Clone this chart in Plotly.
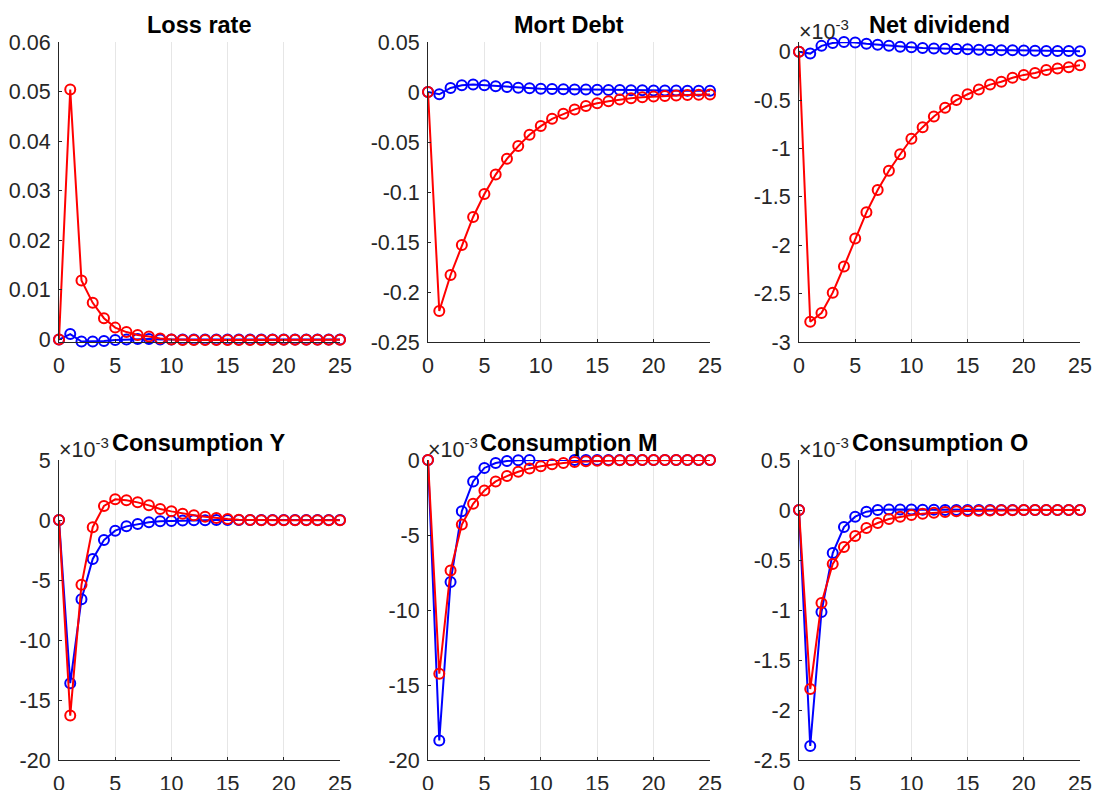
import plotly.graph_objects as go

periods = list(range(26))

titles = ["Loss rate", "Mort Debt", "Net dividend", "Consumption Y", "Consumption M", "Consumption O"]

loss_blue = [0, 0.0011, -0.0004, -0.0004, -0.0003, -0.0001, 0.0000, 0.0001, 0.0001, 0.0000,
             0.0000, 0.0000, 0.0000, 0.0000, 0.0000, 0.0000, 0.0000, 0.0000, 0.0000, 0.0000,
             0.0000, 0.0000, 0.0000, 0.0000, 0.0000, 0.0000]
loss_red = [0, 0.0504, 0.0119, 0.0074, 0.0043, 0.0024, 0.0015, 0.0009, 0.0006, 0.0002,
            0.0000, -0.0001, -0.0001, -0.0001, -0.0001, -0.0001, -0.0001, -0.0001, -0.0001, -0.00005,
            -0.00005, -0.00005, -0.00005, -0.00005, -0.00005, -0.00005]

mort_blue = [0, -0.0023, 0.0040, 0.0067, 0.0074, 0.0067, 0.0057, 0.0050, 0.0043, 0.0038,
             0.0033, 0.0030, 0.0028, 0.0026, 0.0024, 0.0022, 0.0021, 0.0019, 0.0018, 0.0017,
             0.0016, 0.0015, 0.0014, 0.0013, 0.0013, 0.0012]
mort_red = [0, -0.219, -0.183, -0.153, -0.125, -0.102, -0.0826, -0.0668, -0.0541, -0.0428,
            -0.0341, -0.0268, -0.0217, -0.0174, -0.0140, -0.0112, -0.0092, -0.0076, -0.0062, -0.0052,
            -0.0045, -0.0040, -0.0035, -0.0031, -0.0028, -0.0025]

div_blue = [v * 1e-3 for v in (0, -0.02, 0.06, 0.09, 0.10, 0.096, 0.083, 0.072, 0.062, 0.052,
                               0.045, 0.038, 0.034, 0.031, 0.027, 0.024, 0.021, 0.018, 0.016, 0.014,
                               0.012, 0.010, 0.008, 0.007, 0.006, 0.005)]
div_red = [v * 1e-3 for v in (0, -2.79, -2.70, -2.49, -2.22, -1.93, -1.66, -1.43, -1.23, -1.06,
                              -0.90, -0.78, -0.67, -0.58, -0.50, -0.44, -0.39, -0.34, -0.31, -0.27,
                              -0.24, -0.22, -0.19, -0.175, -0.16, -0.14)]

cy_blue = [v * 1e-3 for v in (0, -13.6, -6.6, -3.25, -1.67, -0.89, -0.53, -0.33, -0.19, -0.11,
                              -0.08, -0.05, -0.03, -0.02, -0.01, 0, 0, 0, 0, 0,
                              0, 0, 0, 0, 0, 0)]
cy_red = [v * 1e-3 for v in (0, -16.3, -5.4, -0.6, 1.17, 1.72, 1.64, 1.47, 1.22, 0.92,
                             0.72, 0.53, 0.39, 0.28, 0.17, 0.08, 0.03, 0.0, -0.02, -0.03,
                             -0.03, -0.03, -0.03, -0.02, -0.02, -0.02)]

cm_blue = [v * 1e-3 for v in (0, -18.7, -8.13, -3.41, -1.43, -0.53, -0.20, -0.07, -0.02, 0.0,
                              0.01, 0.01, 0.01, 0.0, 0, 0, 0, 0, 0, 0,
                              0, 0, 0, 0, 0, 0)]
cm_red = [v * 1e-3 for v in (0, -14.25, -7.37, -4.30, -2.92, -2.03, -1.43, -1.07, -0.78, -0.56,
                             -0.42, -0.29, -0.20, -0.13, -0.09, -0.05, -0.03, -0.02, -0.01, 0,
                             0, 0, 0, 0, 0, 0)]

co_blue = [v * 1e-3 for v in (0, -2.36, -1.02, -0.43, -0.17, -0.067, -0.017, 0.0, 0.005, 0.005,
                              0.004, 0.003, 0.002, 0.001, 0, 0, 0, 0, 0, 0,
                              0, 0, 0, 0, 0, 0)]
co_red = [v * 1e-3 for v in (0, -1.79, -0.93, -0.54, -0.37, -0.26, -0.18, -0.13, -0.09, -0.067,
                             -0.05, -0.037, -0.027, -0.02, -0.013, -0.01, -0.007, -0.005, -0.003, -0.002,
                             -0.001, 0, 0, 0, 0, 0)]

blue_series = [loss_blue, mort_blue, div_blue, cy_blue, cm_blue, co_blue]
red_series = [loss_red, mort_red, div_red, cy_red, cm_red, co_red]

x_ticks = [0, 5, 10, 15, 20, 25]

y_ranges = [[-0.0005, 0.06], [-0.25, 0.05], [-3e-3, 0.1e-3],
            [-20e-3, 5e-3], [-20e-3, 0.0], [-2.5e-3, 0.5e-3]]
y_tickvals = [
    [0, 0.01, 0.02, 0.03, 0.04, 0.05, 0.06],
    [-0.25, -0.2, -0.15, -0.1, -0.05, 0, 0.05],
    [-3e-3, -2.5e-3, -2e-3, -1.5e-3, -1e-3, -0.5e-3, 0],
    [-20e-3, -15e-3, -10e-3, -5e-3, 0, 5e-3],
    [-20e-3, -15e-3, -10e-3, -5e-3, 0],
    [-2.5e-3, -2e-3, -1.5e-3, -1e-3, -0.5e-3, 0, 0.5e-3],
]
y_ticktext = [
    ["0", "0.01", "0.02", "0.03", "0.04", "0.05", "0.06"],
    ["-0.25", "-0.2", "-0.15", "-0.1", "-0.05", "0", "0.05"],
    ["-3", "-2.5", "-2", "-1.5", "-1", "-0.5", "0"],
    ["-20", "-15", "-10", "-5", "0", "5"],
    ["-20", "-15", "-10", "-5", "0"],
    ["-2.5", "-2", "-1.5", "-1", "-0.5", "0", "0.5"],
]
has_exp = [False, False, True, True, True, True]

W, H = 1094, 790
col_px = [(59, 340), (428, 710), (799, 1080)]
row_px = [(42, 342), (460, 760)]

FONT = "Liberation Sans, Arial, Helvetica, sans-serif"
TICK_COLOR = "#262626"
AXIS_COLOR = "#262626"
TICK_SIZE = 21.5
TITLE_SIZE = 23.5

fig = go.Figure()
annotations = []

for i in range(6):
    r, c = divmod(i, 3)
    x0, x1 = col_px[c]
    top, bot = row_px[r]
    xd = [x0 / W, x1 / W]
    yd = [1 - bot / H, 1 - top / H]
    n = "" if i == 0 else str(i + 1)
    xa, ya = "x" + n, "y" + n

    for series, color in ((blue_series[i], "#0000ff"), (red_series[i], "#ff0000")):
        fig.add_trace(go.Scatter(
            x=periods, y=series, xaxis=xa, yaxis=ya, mode="lines+markers",
            line=dict(color=color, width=2),
            marker=dict(symbol="circle-open", size=10, color=color, line=dict(color=color, width=2)),
            cliponaxis=False, showlegend=False, hoverinfo="skip",
        ))

    fig.layout["xaxis" + n] = dict(
        domain=xd, anchor=ya, range=[0, 25], tickvals=x_ticks, ticktext=[str(t) for t in x_ticks],
        showgrid=True, gridcolor="#e6e6e6", gridwidth=1, zeroline=False,
        showline=True, linecolor=AXIS_COLOR, linewidth=1, mirror=False,
        ticks="inside", ticklen=3, tickcolor=AXIS_COLOR, automargin=False,
        ticklabelstandoff=4,
        tickfont=dict(family=FONT, size=TICK_SIZE, color=TICK_COLOR), fixedrange=True,
    )
    fig.layout["yaxis" + n] = dict(
        domain=yd, anchor=xa, range=y_ranges[i], tickvals=y_tickvals[i], ticktext=y_ticktext[i],
        showgrid=False, zeroline=False,
        showline=True, linecolor=AXIS_COLOR, linewidth=1, mirror=False,
        ticks="inside", ticklen=3, tickcolor=AXIS_COLOR, automargin=False,
        ticklabelstandoff=3,
        tickfont=dict(family=FONT, size=TICK_SIZE, color=TICK_COLOR), fixedrange=True,
    )

    annotations.append(dict(
        text="<b>" + titles[i] + "</b>", xref="paper", yref="paper",
        x=(xd[0] + xd[1]) / 2, y=yd[1] + 2 / H, xanchor="center", yanchor="bottom",
        showarrow=False, font=dict(family=FONT, size=TITLE_SIZE, color="#000000"),
    ))
    if has_exp[i]:
        annotations.append(dict(
            text="×10<sup>-3</sup>", xref="paper", yref="paper",
            x=xd[0] - 2 / W, y=yd[1] - 4 / H, xanchor="left", yanchor="bottom",
            showarrow=False, font=dict(family=FONT, size=TICK_SIZE, color=TICK_COLOR),
        ))

fig.update_layout(
    width=W, height=H, margin=dict(l=0, r=0, t=0, b=0),
    paper_bgcolor="#ffffff", plot_bgcolor="#ffffff",
    annotations=annotations, showlegend=False,
)

fig.write_html(
    "out.html",
    config={"displayModeBar": False, "staticPlot": True},
    post_script="document.body.style.margin='0';document.body.style.overflow='hidden';",
)
